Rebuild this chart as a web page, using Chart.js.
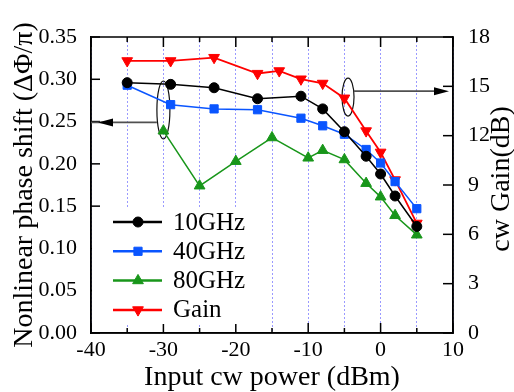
<!DOCTYPE html>
<html><head><meta charset="utf-8">
<script src="https://cdn.jsdelivr.net/npm/chart.js@4.4.1/dist/chart.umd.min.js"></script>
<style>html,body{margin:0;padding:0;background:#fff;} #wrap{width:514px;height:392px;}</style>
</head><body><div id="wrap"><canvas id="c" width="514" height="392"></canvas></div>
<script>
// ---- data ----
const power10 = [-35,-29,-23,-17,-11,-8,-5,-2,0,2,5];
const phase10 = [0.296,0.294,0.290,0.277,0.280,0.265,0.238,0.209,0.188,0.162,0.126];
const power40 = [-35,-29,-23,-17,-11,-8,-5,-2,0,2,5];
const phase40 = [0.293,0.270,0.265,0.264,0.254,0.245,0.235,0.217,0.201,0.179,0.147];
const power80 = [-30,-25,-20,-15,-10,-8,-5,-2,0,2,5];
const phase80 = [0.239,0.174,0.203,0.231,0.207,0.216,0.205,0.177,0.161,0.139,0.116];
const powerGain = [-35,-29,-23,-17,-14,-11,-8,-5,-2,0,2,5];
const gainDb = [16.55,16.55,16.75,15.78,15.94,15.44,15.18,14.28,12.29,10.99,9.31,6.67];
const seriesLabels = ['10GHz','40GHz','80GHz','Gain'];
const xTickLabels = ['-40','-30','-20','-10','0','10'];
const yTickLabels = ['0.00','0.05','0.10','0.15','0.20','0.25','0.30','0.35'];
const y2TickLabels = ['0','3','6','9','12','15','18'];
const xTitle = 'Input cw power (dBm)';
const yTitle = 'Nonlinear phase shift (ΔΦ/π)';
const y2Title = 'cw Gain(dB)';

const SERIF = "'Liberation Serif','Times New Roman',serif";
const pts = (xs, ys) => xs.map((x, i) => ({x: x, y: ys[i]}));

function ds(label, xs, ys, color, style, radius, rot, axis, lw) {
  return {
    label: label, data: pts(xs, ys), yAxisID: axis,
    borderColor: color, backgroundColor: color, borderWidth: lw,
    pointStyle: style, pointRadius: radius, pointHoverRadius: radius,
    pointRotation: rot, pointBorderWidth: 1, tension: 0, fill: false
  };
}

const datasets = [
  ds(seriesLabels[0], power10, phase10, '#000000', 'circle', 5, 0, 'y', 1.5),
  ds(seriesLabels[1], power40, phase40, '#0a55ff', 'rect', 5.8, 0, 'y', 1.5),
  ds(seriesLabels[2], power80, phase80, '#18961a', 'triangle', 6.2, 0, 'y', 1.5),
  ds(seriesLabels[3], powerGain, gainDb, '#ff0000', 'triangle', 6.2, 180, 'y1', 1.8)
];

// ---- frame, inward ticks, annotations, legend, right title ----
const decor = {
  id: 'decor',
  beforeDatasetsDraw(chart) {
    const ctx = chart.ctx, a = chart.chartArea;
    const xs = chart.scales.x, ys = chart.scales.y, y2 = chart.scales.y1;
    ctx.save();
    ctx.strokeStyle = '#000'; ctx.lineWidth = 1.5;
    // x ticks (bottom & top)
    xs.ticks.forEach(t => {
      const px = xs.getPixelForValue(t.value);
      const len = (Math.round(t.value) % 10 === 0) ? 10 : 5;
      ctx.beginPath();
      ctx.moveTo(px, a.bottom); ctx.lineTo(px, a.bottom - len);
      ctx.moveTo(px, a.top); ctx.lineTo(px, a.top + len);
      ctx.stroke();
    });
    ys.ticks.forEach(t => {
      const py = ys.getPixelForValue(t.value);
      ctx.beginPath(); ctx.moveTo(a.left, py); ctx.lineTo(a.left + 9, py); ctx.stroke();
    });
    y2.ticks.forEach(t => {
      const py = y2.getPixelForValue(t.value);
      ctx.beginPath(); ctx.moveTo(a.right, py); ctx.lineTo(a.right - 10, py); ctx.stroke();
    });
    // frame
    ctx.strokeRect(a.left, a.top, a.right - a.left, a.bottom - a.top);

    // legend background (covers grid lines)
    ctx.fillStyle = '#fff';
    ctx.fillRect(a.left + 1, a.top + 170, 160, 117);

    // annotations: ellipses + arrows
    ctx.lineWidth = 1.2; ctx.strokeStyle = '#111';
    const e1x = xs.getPixelForValue(-30), e1y = ys.getPixelForValue(0.2637);
    ctx.beginPath(); ctx.ellipse(e1x, e1y, 6.5, 29, 0, 0, Math.PI * 2); ctx.stroke();
    const e2x = xs.getPixelForValue(-4.5), e2y = ys.getPixelForValue(0.279);
    ctx.beginPath(); ctx.ellipse(e2x, e2y, 6, 19, 0, 0, Math.PI * 2); ctx.stroke();
    ctx.strokeStyle = '#505050'; ctx.lineWidth = 1.6;
    const a1y = ys.getPixelForValue(0.249);
    ctx.beginPath(); ctx.moveTo(e1x - 6.5, a1y); ctx.lineTo(a.left, a1y); ctx.stroke();
    const a2y = ys.getPixelForValue(0.286);
    ctx.beginPath(); ctx.moveTo(e2x + 6, a2y); ctx.lineTo(a.right - 18, a2y); ctx.stroke();
    ctx.fillStyle = '#000';
    ctx.beginPath(); ctx.moveTo(a.left + 7, a1y); ctx.lineTo(a.left + 22, a1y - 4); ctx.lineTo(a.left + 22, a1y + 4); ctx.closePath(); ctx.fill();
    ctx.beginPath(); ctx.moveTo(a.right - 4, a2y); ctx.lineTo(a.right - 19, a2y - 4); ctx.lineTo(a.right - 19, a2y + 4); ctx.closePath(); ctx.fill();
    ctx.restore();
  },
  afterDraw(chart) {
    const ctx = chart.ctx, a = chart.chartArea;
    ctx.save();
    // legend
    ctx.font = '25px ' + SERIF;
    ctx.textBaseline = 'middle'; ctx.textAlign = 'left';
    chart.data.datasets.forEach((d, i) => {
      const y = a.top + 185 + i * 29.3;
      ctx.strokeStyle = d.borderColor; ctx.fillStyle = d.backgroundColor;
      ctx.lineWidth = 2.5;
      ctx.beginPath(); ctx.moveTo(a.left + 22, y); ctx.lineTo(a.left + 71, y); ctx.stroke();
      ctx.lineWidth = 1;
      Chart.helpers.drawPoint(ctx, {pointStyle: d.pointStyle, radius: d.pointRadius, rotation: d.pointRotation, borderWidth: 1}, a.left + 47, y);
      ctx.fillStyle = '#000';
      ctx.fillText(d.label, a.left + 82, y + 1);
    });
    // right axis title, reading bottom-to-top
    ctx.translate(502, (a.top + a.bottom) / 2 - 6);
    ctx.rotate(-Math.PI / 2);
    ctx.textAlign = 'center';
    ctx.font = '28px ' + SERIF;
    ctx.fillStyle = '#000';
    ctx.fillText(y2Title, 0, 0);
    ctx.restore();
  }
};

const tickFont = {family: SERIF, size: 22};
new Chart(document.getElementById('c'), {
  type: 'line',
  data: {datasets: datasets},
  options: {
    responsive: false, animation: false,
    layout: {padding: {top: 37, left: 0, right: 0, bottom: 0}},
    plugins: {legend: {display: false}, tooltip: {enabled: false}},
    scales: {
      x: {
        type: 'linear', min: -40, max: 10,
        ticks: {stepSize: 5, font: tickFont, color: '#000', padding: 4, maxRotation: 0,
          callback: v => { const i = xTickLabels.indexOf(String(v)); return i >= 0 ? xTickLabels[i] : ''; }},
        grid: {color: '#9a9aff', lineWidth: 1, drawTicks: false},
        border: {display: true, color: '#000', width: 1.5, dash: [2, 2]},
        title: {display: true, text: xTitle, font: {family: SERIF, size: 28, lineHeight: 1}, color: '#000', padding: {top: 0, bottom: 0}},
        afterFit: s => { s.height = 59; }
      },
      y: {
        type: 'linear', position: 'left', min: 0, max: 0.35,
        ticks: {stepSize: 0.05, font: tickFont, color: '#000', padding: 6,
          callback: v => yTickLabels[Math.round(v / 0.05)]},
        grid: {display: false},
        border: {display: true, color: '#000', width: 1.5},
        title: {display: true, text: yTitle, font: {family: SERIF, size: 28, lineHeight: 1.2}, color: '#000', padding: {top: 8, bottom: 0}},
        afterFit: s => { s.width = 91; }
      },
      y1: {
        type: 'linear', position: 'right', min: 0, max: 18,
        ticks: {stepSize: 3, font: tickFont, color: '#000', padding: 7,
          callback: v => y2TickLabels[Math.round(v / 3)]},
        grid: {display: false},
        border: {display: true, color: '#000', width: 1.5},
        afterFit: s => { s.width = 61; }
      }
    }
  },
  plugins: [decor]
});
</script></body></html>
